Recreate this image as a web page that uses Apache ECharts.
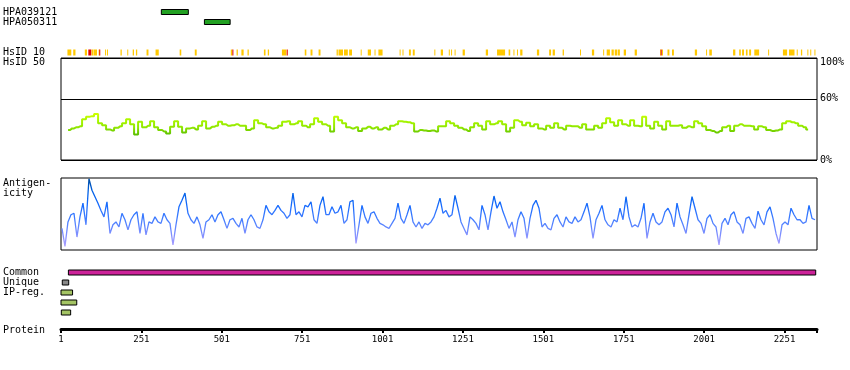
<!DOCTYPE html>
<html><head><meta charset="utf-8">
<script src="https://cdn.jsdelivr.net/npm/echarts@6/dist/echarts.min.js"></script>
<style>html,body{margin:0;padding:0;background:#fff}#c{width:850px;height:370px}</style>
</head><body><div id="c"></div>
<script>
// ---------------- data ----------------
const proteinLength = 2352;
const tickInterval = 250;

const hpaNames = ['HPA039121', 'HPA050311'];
const hpaRanges = [[313, 397], [447, 527]];

const hsid10Label = 'HsID 10';
const hsid10Yellow = [[21,33],[39,46],[75,82],[96,102],[103,113],[118,120],[138,140],[144,146],[186,190],[207,210],[224,228],[234,238],[267,273],[295,305],[370,375],[417,423],[529,534],[547,551],[562,569],[581,585],[632,637],[644,648],[688,702],[759,764],[777,783],[802,808],[858,862],[864,878],[881,893],[897,906],[933,936],[955,965],[976,979],[988,1001],[1054,1057],[1063,1066],[1083,1089],[1095,1101],[1162,1165],[1182,1189],[1207,1210],[1214,1217],[1225,1228],[1250,1257],[1322,1329],[1357,1382],[1393,1398],[1408,1411],[1419,1422],[1429,1436],[1481,1488],[1519,1525],[1530,1537],[1561,1565],[1615,1618],[1652,1659],[1687,1690],[1698,1708],[1713,1720],[1723,1730],[1732,1739],[1751,1758],[1785,1792],[1864,1866],[1870,1872],[1887,1893],[1901,1907],[1972,1979],[2007,2010],[2017,2025],[2091,2098],[2110,2115],[2119,2125],[2131,2136],[2141,2147],[2157,2172],[2200,2203],[2246,2259],[2265,2282],[2289,2292],[2302,2306],[2322,2325],[2331,2334],[2344,2347]];
const hsid10Red = [[86,95],[120,123],[534,537],[703,706],[1866,1869]];

// HsID 50 identity (%) sampled along the protein
const hsid50Start = 23, hsid50Step = 12.44;
const hsid50Values = [
 29.4,31,32,33,40,42.5,43,45,36,34,
 30,29,31.5,33,36,40,35,25,37.5,32,
 33.5,38,32,29.4,28,26,32.5,38,32.5,27,
 31,31.5,30,33.5,38,31,32.5,33.5,37.5,35,
 33.5,34,35,33.5,33.5,29.4,31,39,36,35,
 32,31,31.5,33.5,37.5,38,35,36,38,33.5,
 32,35,41,37.5,35,33.5,28,42.5,39,36,
 32,31,32,28.5,31,32.5,31,32,30,31.5,
 30,33.5,35,38,37.5,37,36,28,29.4,29,
 28.5,29,28,33,
 33,38,36,33.5,31.5,30,28.5,32,36,33.5,
 30,38,35,36,38,35,28,31.5,39,37.5,
 34,36.5,33,35,31,30,33.5,31.5,36,31.5,
 30,33.5,33,33,31.5,35,30,30,33.5,31.5,
 36,41,37,33.5,39,35,33.5,39,33.5,33,
 42.5,33.5,31,37.5,33.5,30,38,33.5,33.5,34,
 31.5,33,32,38,36,33,29.4,28.5,27,28.5,
 32,33.5,28.5,33.5,35,33.5,33.5,33,30,33,
 32,29.4,28.5,29,30,36,38,37,36,33.5,
 32,30
];

// Antigenicity (relative, 0-100) sampled along the protein
const antigenStart = 4, antigenStep = 9.33;
const antigenValues = [
 30,5,39,49,51,18,46,65,35,99,
 83,74,65,55,46,67,23,35,39,32,
 51,42,28,42,49,53,23,51,21,39,
 37,46,39,37,51,42,37,7,35,60,
 69,79,51,42,37,46,35,16,39,42,
 49,39,49,53,42,30,42,44,37,32,
 44,23,42,49,42,32,30,42,62,53,
 49,55,62,55,51,44,49,79,49,53,
 46,62,60,67,42,37,62,74,49,49,
 60,51,53,62,37,42,67,69,9,35,
 62,46,37,51,53,44,37,35,32,30,
 37,44,65,44,37,49,62,39,32,39,
 30,37,35,39,46,58,72,51,
 55,46,49,76,58,39,30,21,46,42,
 37,28,62,49,28,53,75,58,67,53,
 42,30,39,18,42,53,44,16,44,62,
 69,58,32,37,30,28,44,49,39,32,
 46,39,37,46,39,42,53,65,46,16,
 42,51,62,42,35,32,42,39,58,42,
 74,46,32,35,32,44,65,16,39,51,
 39,35,39,53,58,49,32,65,46,35,
 23,49,74,58,42,37,23,44,49,37,
 32,7,37,44,35,49,53,39,35,23,
 44,46,37,30,54,42,35,53,60,44,
 23,9,35,39,35,58,49,42,42,37,
 39,62,44,42
];

const regionRows = ['Common', 'Unique', 'IP-reg.', ' ', '  '];
const commonRanges = [[24, 2348]];
const uniqueRanges = [[5, 25]];
const ipRegRanges = [[1, 37], [1, 50], [2, 31]];

// ---------------- chart ----------------
const FONT = 'DejaVu Sans Mono';
const chart = echarts.init(document.getElementById('c'), null, {renderer: 'canvas'});

function rangeItem(fill, stroke, frac) {
  return function (params, api) {
    const a = api.coord([api.value(0), api.value(2)]);
    const b = api.coord([api.value(1), api.value(2)]);
    const h = api.size([0, 1])[1] * frac;
    return {
      type: 'rect',
      shape: {x: a[0], y: a[1] - h / 2, width: Math.max(b[0] - a[0], 1), height: h},
      style: {fill: fill, stroke: stroke || null, lineWidth: stroke ? 1 : 0}
    };
  };
}
const toRows = (ranges, row) => ranges.map((r, i) => [r[0], r[1], row === undefined ? i : row]);

const L = 61, R = 33;
const grids = [
  {left: L, right: R, top: 7, height: 20},
  {left: L, right: R, top: 49.5, height: 6},
  {left: L, right: R, top: 58, height: 102, show: true, borderColor: '#000', borderWidth: 1},
  {left: L, right: R, top: 178, height: 72, show: true, borderColor: '#000', borderWidth: 1},
  {left: L, right: R, top: 267.5, height: 50},
  {left: L, right: R, top: 300, height: 29}
];
const hiddenX = i => ({gridIndex: i, type: 'value', min: 1, max: proteinLength, show: false});
const catLabel = {show: true, interval: 0, align: 'left', margin: 58, color: '#000', fontFamily: FONT, fontSize: 10};
const catY = (i, data) => ({gridIndex: i, type: 'category', data: data, inverse: true,
  axisLine: {show: false}, axisTick: {show: false}, axisLabel: catLabel, splitLine: {show: false}});

const option = {
  animation: false,
  backgroundColor: '#fff',
  grid: grids,
  xAxis: [hiddenX(0), hiddenX(1), hiddenX(2), hiddenX(3), hiddenX(4), {
    gridIndex: 5, type: 'value', min: 1, max: proteinLength, interval: tickInterval,
    position: 'bottom',
    axisLine: {show: true, lineStyle: {color: '#000', width: 3}},
    axisTick: {show: true, length: 4, lineStyle: {color: '#000', width: 2}},
    splitLine: {show: false},
    axisLabel: {margin: 6, color: '#000', fontFamily: FONT, fontSize: 9,
      formatter: v => (v === proteinLength ? '' : String(v))}
  }],
  yAxis: [
    catY(0, hpaNames),
    catY(1, [hsid10Label]),
    {gridIndex: 2, type: 'value', min: 0, max: 100, interval: 60, position: 'right',
      axisLine: {show: false}, axisTick: {show: false},
      splitLine: {show: true, lineStyle: {color: '#000', width: 1}},
      axisLabel: {margin: 3, color: '#000', fontFamily: FONT, fontSize: 10,
        formatter: v => (v === 100 ? '{t|100%}' : v + '%'),
        rich: {t: {padding: [8, 0, 0, 0], fontFamily: FONT, fontSize: 10, color: '#000'}}}},
    {gridIndex: 3, type: 'value', min: 0, max: 100, show: false},
    catY(4, regionRows),
    {gridIndex: 5, type: 'value', show: false}
  ],
  visualMap: [
    {type: 'continuous', show: false, seriesIndex: 3, dimension: 1, min: 25, max: 45,
      inRange: {color: ['#5cbf00', '#8fe600', '#a6f500', '#ccff00']}},
    {type: 'continuous', show: false, seriesIndex: 4, dimension: 1, min: 0, max: 100,
      inRange: {color: ['#b8a4ff', '#8490ff', '#4a80ff', '#1a6cff', '#0060e6', '#004c9e']}}
  ],
  series: [
    {type: 'custom', xAxisIndex: 0, yAxisIndex: 0, renderItem: rangeItem('#22a022', '#000', 0.5),
      encode: {x: [0, 1], y: 2}, data: toRows(hpaRanges)},
    {type: 'custom', xAxisIndex: 1, yAxisIndex: 1, renderItem: rangeItem('#ffc800', null, 1),
      encode: {x: [0, 1], y: 2}, data: toRows(hsid10Yellow, 0)},
    {type: 'custom', xAxisIndex: 1, yAxisIndex: 1, renderItem: rangeItem('#e00000', null, 1),
      encode: {x: [0, 1], y: 2}, data: toRows(hsid10Red, 0)},
    {type: 'line', xAxisIndex: 2, yAxisIndex: 2, symbol: 'none', step: 'middle', smooth: false,
      lineStyle: {width: 2}, data: hsid50Values.map((v, i) => [hsid50Start + i * hsid50Step, v])},
    {type: 'line', xAxisIndex: 3, yAxisIndex: 3, symbol: 'none', smooth: false,
      lineStyle: {width: 1.3}, data: antigenValues.map((v, i) => [antigenStart + i * antigenStep, v])},
    {type: 'custom', xAxisIndex: 4, yAxisIndex: 4, renderItem: rangeItem('#cc2299', '#000', 0.5),
      encode: {x: [0, 1], y: 2}, data: toRows(commonRanges, 0)},
    {type: 'custom', xAxisIndex: 4, yAxisIndex: 4, renderItem: rangeItem('#888888', '#000', 0.5),
      encode: {x: [0, 1], y: 2}, data: toRows(uniqueRanges, 1)},
    {type: 'custom', xAxisIndex: 4, yAxisIndex: 4, renderItem: rangeItem('#a4c464', '#000', 0.5),
      encode: {x: [0, 1], y: 2}, data: ipRegRanges.map((r, i) => [r[0], r[1], 2 + i])},
    {type: 'line', xAxisIndex: 5, yAxisIndex: 5, data: [], symbol: 'none'}
  ],
  graphic: [
    {type: 'text', x: 3, y: 62, style: {text: 'HsID 50', font: '10px ' + FONT, fill: '#000', verticalAlign: 'middle'}},
    {type: 'text', x: 3, y: 183, style: {text: 'Antigen-', font: '10px ' + FONT, fill: '#000', verticalAlign: 'middle'}},
    {type: 'text', x: 3, y: 193, style: {text: 'icity', font: '10px ' + FONT, fill: '#000', verticalAlign: 'middle'}},
    {type: 'text', x: 3, y: 330, style: {text: 'Protein', font: '10px ' + FONT, fill: '#000', verticalAlign: 'middle'}}
  ]
};
chart.setOption(option);
</script>
</body></html>
